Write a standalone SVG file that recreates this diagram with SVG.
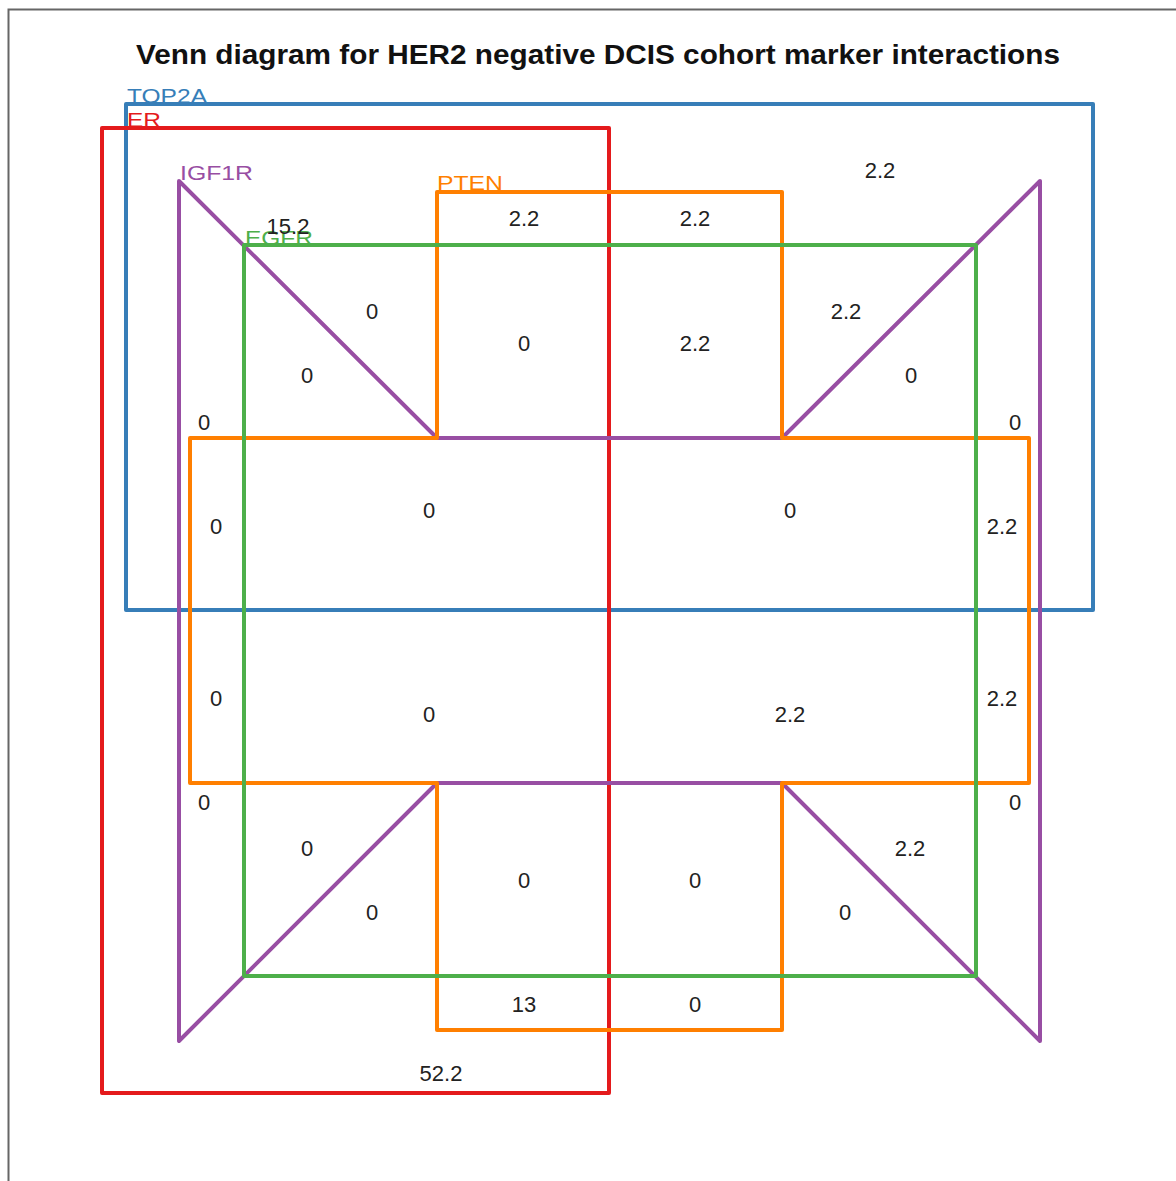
<svg xmlns="http://www.w3.org/2000/svg" width="1176" height="1181" viewBox="0 0 1176 1181">
<style>
.set{fill:none;stroke-width:4;stroke-linejoin:round}
.num{font-family:"Liberation Sans",Arial,sans-serif;font-size:22px;fill:#222;text-anchor:middle}
.lab{font-family:"Liberation Sans",Arial,sans-serif;font-size:21px}
.title{font-family:"Liberation Sans",Arial,sans-serif;font-size:27px;font-weight:bold;fill:#111;text-anchor:middle}
</style>
<rect width="1176" height="1181" fill="#fff"/>
<path d="M8.5 1181 V9.5 H1176" fill="none" stroke="#666" stroke-width="2"/>
<text class="title" x="598" y="64" textLength="924" lengthAdjust="spacingAndGlyphs">Venn diagram for HER2 negative DCIS cohort marker interactions</text>
<g id="connectors"></g>
<g id="TOP2A">
<rect class="set" x="126" y="104" width="967" height="506" stroke="#377EB8"/>
<text class="lab" x="127" y="103" fill="#377EB8" textLength="80" lengthAdjust="spacingAndGlyphs">TOP2A</text>
</g>
<g id="ER">
<rect class="set" x="102" y="128" width="507" height="965" stroke="#E41A1C"/>
<text class="lab" x="127" y="127" fill="#E41A1C" textLength="34" lengthAdjust="spacingAndGlyphs">ER</text>
</g>
<g id="IGF1R">
<polygon class="set" points="179,181 437,438 782,438 1040,181 1040,1041 782,783 437,783 179,1041" stroke="#984EA3"/>
<text class="lab" x="180" y="180" fill="#984EA3" textLength="73" lengthAdjust="spacingAndGlyphs">IGF1R</text>
</g>
<g id="PTEN">
<polygon class="set" points="437,192 782,192 782,438 1029,438 1029,783 782,783 782,1030 437,1030 437,783 190,783 190,438 437,438" stroke="#FF7F00"/>
<text class="lab" x="437" y="190" fill="#FF7F00" textLength="66" lengthAdjust="spacingAndGlyphs">PTEN</text>
</g>
<g id="EGFR">
<rect class="set" x="244" y="245" width="732" height="731" stroke="#4DAF4A"/>
<text class="lab" x="245" y="245" fill="#4DAF4A" textLength="68" lengthAdjust="spacingAndGlyphs">EGFR</text>
</g>
<g id="counts">
<text class="num" x="880" y="178">2.2</text>
<text class="num" x="288" y="234">15.2</text>
<text class="num" x="524" y="226">2.2</text>
<text class="num" x="695" y="226">2.2</text>
<text class="num" x="372" y="319">0</text>
<text class="num" x="846" y="319">2.2</text>
<text class="num" x="307" y="383">0</text>
<text class="num" x="524" y="351">0</text>
<text class="num" x="695" y="351">2.2</text>
<text class="num" x="911" y="383">0</text>
<text class="num" x="204" y="430">0</text>
<text class="num" x="1015" y="430">0</text>
<text class="num" x="216" y="534">0</text>
<text class="num" x="429" y="518">0</text>
<text class="num" x="790" y="518">0</text>
<text class="num" x="1002" y="534">2.2</text>
<text class="num" x="216" y="706">0</text>
<text class="num" x="429" y="722">0</text>
<text class="num" x="790" y="722">2.2</text>
<text class="num" x="1002" y="706">2.2</text>
<text class="num" x="204" y="810">0</text>
<text class="num" x="1015" y="810">0</text>
<text class="num" x="307" y="856">0</text>
<text class="num" x="910" y="856">2.2</text>
<text class="num" x="372" y="920">0</text>
<text class="num" x="524" y="888">0</text>
<text class="num" x="695" y="888">0</text>
<text class="num" x="845" y="920">0</text>
<text class="num" x="524" y="1012">13</text>
<text class="num" x="695" y="1012">0</text>
<text class="num" x="441" y="1081">52.2</text>
</g>
</svg>
